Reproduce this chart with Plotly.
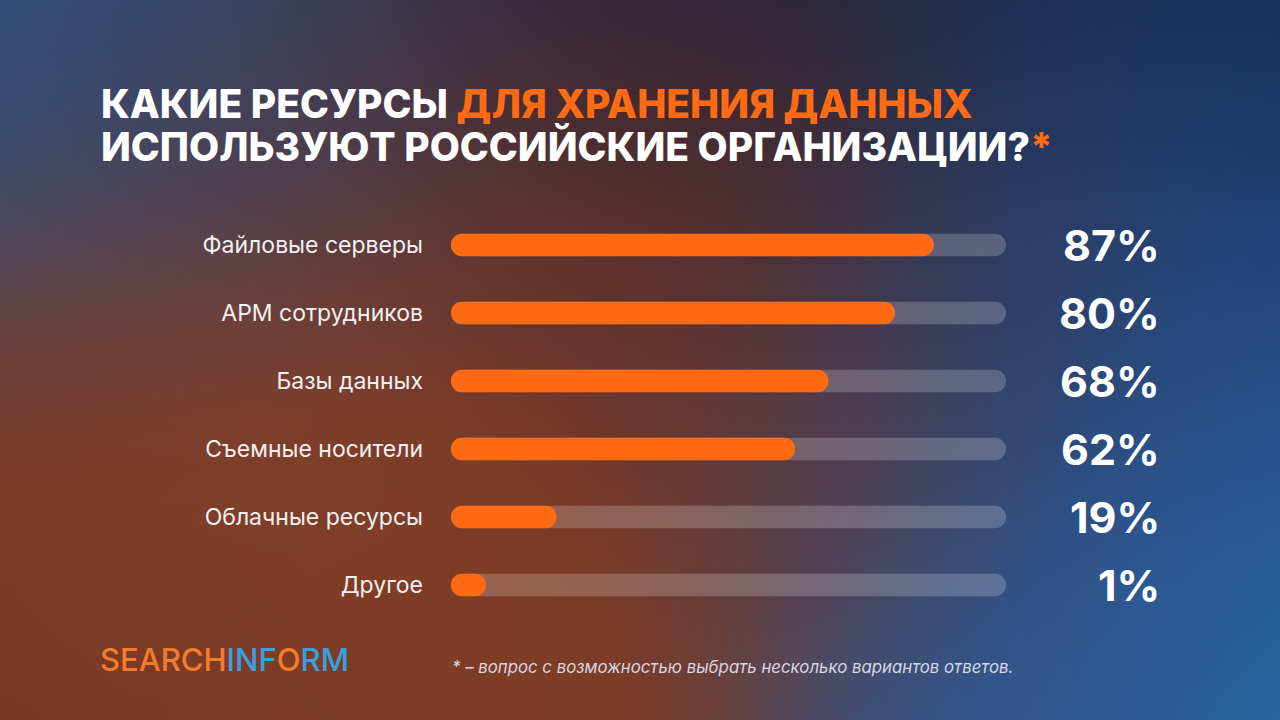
import base64
import struct
import zlib

import numpy as np
import plotly.graph_objects as go

# data
categories = [
    "Файловые серверы",
    "АРМ сотрудников",
    "Базы данных",
    "Съемные носители",
    "Облачные ресурсы",
    "Другое",
]
shares = [87, 80, 68, 62, 19, 1]
value_labels = [f"{v}%" for v in shares]

title_line1 = "КАКИЕ РЕСУРСЫ "
title_line1_accent = "ДЛЯ ХРАНЕНИЯ ДАННЫХ"
title_line2 = "ИСПОЛЬЗУЮТ РОССИЙСКИЕ ОРГАНИЗАЦИИ?"
footnote = "* – вопрос с возможностью выбрать несколько вариантов ответов."

ORANGE = "#ff6a13"
TRACK = "rgba(255,255,255,0.20)"
W, H = 1280, 720
MIN_PILL = 6.3  # tiny shares are still drawn as a round pill


def gradient_png(w=320, h=180):
    # soft blend of a few colour spots, like the blurred poster background
    spots = [
        (0, 0, "#2c5486", 200),
        (250, 90, "#3a3e5c", 170),
        (650, 20, "#242236", 200),
        (1280, 0, "#17305a", 260),
        (650, 260, "#6c3125", 160),
        (350, 420, "#8a4228", 210),
        (80, 560, "#82402a", 190),
        (0, 720, "#6c3322", 190),
        (500, 690, "#7c3a22", 190),
        (830, 470, "#5c3c44", 120),
        (1000, 320, "#343a5a", 130),
        (1190, 430, "#28528e", 190),
        (1280, 720, "#2c6cb0", 240),
        (1020, 690, "#344f80", 140),
    ]
    yy, xx = np.mgrid[0:h, 0:w]
    px = (xx + 0.5) * W / w
    py = (yy + 0.5) * H / h
    acc = np.zeros((h, w, 3))
    wsum = np.zeros((h, w))
    for sx, sy, col, s in spots:
        rgb = np.array([int(col[i:i + 2], 16) for i in (1, 3, 5)], dtype=float)
        wgt = np.exp(-((px - sx) ** 2 + (py - sy) ** 2) / (2 * s * s))
        acc += wgt[..., None] * rgb
        wsum += wgt
    img = np.clip(acc / wsum[..., None], 0, 255).astype(np.uint8)
    raw = b"".join(b"\x00" + row.tobytes() for row in img)

    def chunk(tag, data):
        c = struct.pack(">I", len(data)) + tag + data
        return c + struct.pack(">I", zlib.crc32(tag + data) & 0xFFFFFFFF)

    png = b"\x89PNG\r\n\x1a\n"
    png += chunk(b"IHDR", struct.pack(">IIBBBBB", w, h, 8, 2, 0, 0, 0))
    png += chunk(b"IDAT", zlib.compress(raw, 9))
    png += chunk(b"IEND", b"")
    return "data:image/png;base64," + base64.b64encode(png).decode()


def pill(lengths, color):
    # an explicit base makes plotly round both ends of the bar
    return go.Bar(
        y=categories,
        x=lengths,
        base=[0] * len(lengths),
        orientation="h",
        marker=dict(color=color, cornerradius=11, line=dict(width=0)),
        width=0.33,
        hoverinfo="skip",
    )


drawn = [max(v, MIN_PILL) for v in shares]

fig = go.Figure()
fig.add_trace(pill([100] * len(categories), TRACK))
fig.add_trace(pill(drawn, ORANGE))

# percentages on the right
for cat, lab in zip(categories, value_labels):
    fig.add_annotation(
        x=1162 / W, xref="paper", y=cat, yref="y",
        text=lab, showarrow=False, xanchor="right", yanchor="middle",
        font=dict(family="Inter", size=43, color="white", weight=700),
    )

# title
fig.add_annotation(
    x=99 / W, y=1 - 104 / H, xref="paper", yref="paper",
    text=f"{title_line1}<span style='color:{ORANGE}'>{title_line1_accent}</span>",
    showarrow=False, xanchor="left", yanchor="middle",
    font=dict(family="Inter", size=39, color="white", weight=800),
)
fig.add_annotation(
    x=99 / W, y=1 - 147 / H, xref="paper", yref="paper",
    text=f"{title_line2}<span style='color:{ORANGE}'>*</span>",
    showarrow=False, xanchor="left", yanchor="middle",
    font=dict(family="Inter", size=39, color="white", weight=800),
)

# logo and footnote
fig.add_annotation(
    x=98 / W, y=1 - 659 / H, xref="paper", yref="paper",
    text=(
        "<span style='color:#f47b2a'>SEARCH</span>"
        "<span style='color:#3a9fe2'>INF</span>"
        "<span style='color:#f47b2a'>O</span>"
        "<span style='color:#3a9fe2'>RM</span>"
    ),
    showarrow=False, xanchor="left", yanchor="middle",
    font=dict(family="Inter", size=31, weight=500),
)
fig.add_annotation(
    x=450 / W, y=1 - 667 / H, xref="paper", yref="paper",
    text=footnote, showarrow=False, xanchor="left", yanchor="middle",
    font=dict(family="Inter", size=16.8, color="#d9d6e2", style="italic"),
)

fig.update_layout(
    width=W,
    height=H,
    margin=dict(l=0, r=0, t=0, b=0),
    barmode="overlay",
    showlegend=False,
    paper_bgcolor="#5a3a3a",
    plot_bgcolor="rgba(0,0,0,0)",
    images=[
        dict(
            source=gradient_png(), xref="paper", yref="paper",
            x=0, y=1, sizex=1, sizey=1, sizing="stretch",
            xanchor="left", yanchor="top", layer="below",
        )
    ],
    xaxis=dict(
        range=[0, 100], domain=[451 / W, 1006 / W],
        visible=False, fixedrange=True,
    ),
    yaxis=dict(
        range=[5.5, -0.5],
        domain=[(H - 619) / H, (H - 211) / H],
        showgrid=False, zeroline=False, showline=False,
        ticks="", ticklabelstandoff=27,
        tickfont=dict(family="Inter", size=23, color="#f2f0f0"),
        fixedrange=True,
    ),
)

fig.write_html(
    "out.html",
    config={"displayModeBar": False},
    post_script="document.body.style.margin='0';",
)
